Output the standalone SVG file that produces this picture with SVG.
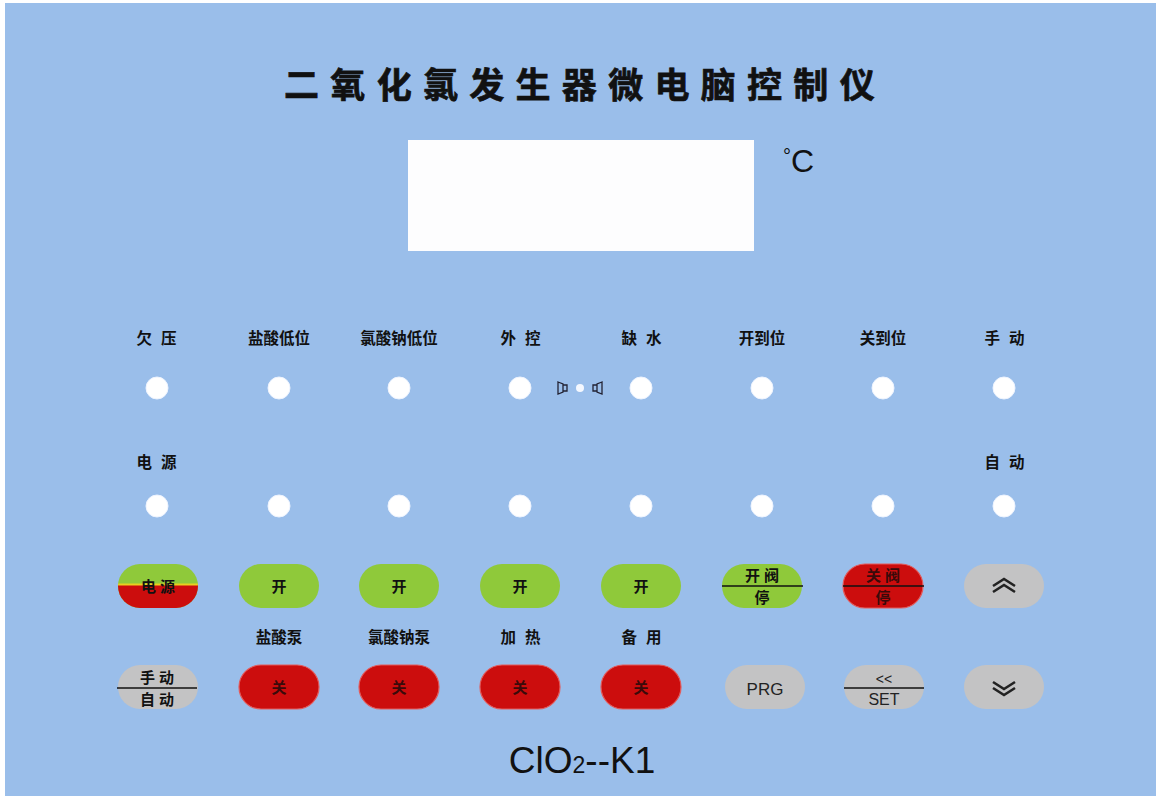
<svg xmlns="http://www.w3.org/2000/svg" width="1156" height="796" viewBox="0 0 1156 796">
<style>
.lbl{font-family:"Noto Sans CJK SC","Liberation Sans",sans-serif;font-weight:bold;font-size:15.5px;fill:#111;text-anchor:middle}
.sp{letter-spacing:9px}
.btxt{font-family:"Noto Sans CJK SC","Liberation Sans",sans-serif;font-weight:bold;font-size:15px;fill:#111;text-anchor:middle}
.rtxt{font-family:"Noto Sans CJK SC","Liberation Sans",sans-serif;font-weight:bold;font-size:15px;fill:#3a0a0a;text-anchor:middle}
.led{fill:#ffffff;stroke:#eef4ff;stroke-width:1}
.green{fill:#8fc93a}
.red{fill:#cc0d0d;stroke:#e35a5a;stroke-width:1.2}
.gray{fill:#c3c3c4}
.div{stroke:#111;stroke-width:1.6}
.chev{fill:none;stroke:#222;stroke-width:2.6;stroke-linejoin:miter}
</style>
<defs>
<clipPath id="pwrclip"><rect x="118" y="564" width="80" height="44" rx="22"/></clipPath>
</defs>
<rect x="0" y="0" width="1156" height="796" fill="#ffffff"/>
<rect x="5" y="3" width="1151" height="793" fill="#9abeea"/>

<g id="title">
<text x="585" y="98" font-family="Noto Sans CJK SC,'Liberation Sans',sans-serif" font-weight="bold" font-size="35" fill="#111" stroke="#111" stroke-width="0.7" text-anchor="middle" letter-spacing="11.3">二氧化氯发生器微电脑控制仪</text>
</g>

<g id="display">
<rect x="408" y="140" width="346" height="111" fill="#fdfdfe"/>
<text x="783" y="163" font-family="'Liberation Sans',sans-serif" font-size="20" fill="#111">°</text>
<text x="791" y="172" font-family="'Liberation Sans',sans-serif" font-size="32" fill="#111">C</text>
</g>

<g id="led-labels">
<text class="lbl sp" x="161" y="344">欠压</text>
<text class="lbl" x="279" y="344">盐酸低位</text>
<text class="lbl" x="399" y="344">氯酸钠低位</text>
<text class="lbl sp" x="525" y="344">外控</text>
<text class="lbl sp" x="646" y="344">缺水</text>
<text class="lbl" x="762" y="344">开到位</text>
<text class="lbl" x="883" y="344">关到位</text>
<text class="lbl sp" x="1009" y="344">手动</text>
<text class="lbl sp" x="161" y="468">电源</text>
<text class="lbl sp" x="1009" y="468">自动</text>
</g>

<g id="leds-row1">
<circle class="led" cx="157" cy="388" r="11"/>
<circle class="led" cx="279" cy="388" r="11"/>
<circle class="led" cx="399" cy="388" r="11"/>
<circle class="led" cx="520" cy="388" r="11"/>
<circle class="led" cx="641" cy="388" r="11"/>
<circle class="led" cx="762" cy="388" r="11"/>
<circle class="led" cx="883" cy="388" r="11"/>
<circle class="led" cx="1004" cy="388" r="11"/>
</g>
<g id="leds-row2">
<circle class="led" cx="157" cy="506" r="11"/>
<circle class="led" cx="279" cy="506" r="11"/>
<circle class="led" cx="399" cy="506" r="11"/>
<circle class="led" cx="520" cy="506" r="11"/>
<circle class="led" cx="641" cy="506" r="11"/>
<circle class="led" cx="762" cy="506" r="11"/>
<circle class="led" cx="883" cy="506" r="11"/>
<circle class="led" cx="1004" cy="506" r="11"/>
</g>

<g id="buzzer">
<path d="M558 382 L563 384 L563 392 L558 394 Z M563 385 L567 385 L567 391 L563 391" fill="none" stroke="#223" stroke-width="1.3"/>
<circle cx="580" cy="388" r="4" fill="#f4f8ff"/>
<path d="M602 382 L597 384 L597 392 L602 394 Z M597 385 L593 385 L593 391 L597 391" fill="none" stroke="#223" stroke-width="1.3"/>
</g>

<g id="btn-power">
<g clip-path="url(#pwrclip)">
<rect x="118" y="564" width="80" height="44" fill="#8fc93a"/>
<rect x="118" y="585" width="80" height="23" fill="#cc0d0d"/>
<rect x="118" y="583.5" width="80" height="2" fill="#e8d020"/>
</g>
<text class="btxt" x="160" y="592" letter-spacing="4">电源</text>
</g>
<g id="btn-on1"><rect class="green" x="239" y="564" width="80" height="44" rx="22"/><text class="btxt" x="279" y="592">开</text></g>
<g id="btn-on2"><rect class="green" x="359" y="564" width="80" height="44" rx="22"/><text class="btxt" x="399" y="592">开</text></g>
<g id="btn-on3"><rect class="green" x="480" y="564" width="80" height="44" rx="22"/><text class="btxt" x="520" y="592">开</text></g>
<g id="btn-on4"><rect class="green" x="601" y="564" width="80" height="44" rx="22"/><text class="btxt" x="641" y="592">开</text></g>
<g id="btn-valve-open">
<rect class="green" x="722" y="564" width="80" height="44" rx="22"/>
<line class="div" x1="722" y1="586" x2="803" y2="586"/>
<text class="btxt" x="764" y="581" font-size="13" letter-spacing="4">开阀</text>
<text class="btxt" x="762" y="603" font-size="13">停</text>
</g>
<g id="btn-valve-close">
<rect class="red" x="843" y="564" width="80" height="44" rx="22"/>
<line class="div" x1="843" y1="586" x2="924" y2="586"/>
<text class="rtxt" x="885" y="581" font-size="13" letter-spacing="4">关阀</text>
<text class="rtxt" x="883" y="603" font-size="13">停</text>
</g>
<g id="btn-up">
<rect class="gray" x="964" y="564" width="80" height="44" rx="22"/>
<path class="chev" d="M993 586 L1004 579 L1015 586 M993 592 L1004 585 L1015 592"/>
</g>

<g id="pump-labels">
<text class="lbl" x="279" y="643">盐酸泵</text>
<text class="lbl" x="399" y="643">氯酸钠泵</text>
<text class="lbl sp" x="525" y="643">加热</text>
<text class="lbl sp" x="646" y="643">备用</text>
</g>

<g id="btn-manual-auto">
<rect class="gray" x="118" y="665" width="80" height="44" rx="22"/>
<line class="div" x1="117" y1="688" x2="197" y2="688"/>
<text class="btxt" x="159" y="683" font-size="13" letter-spacing="4">手动</text>
<text class="btxt" x="159" y="705" font-size="13" letter-spacing="4">自动</text>
</g>
<g id="btn-off1"><rect class="red" x="239" y="665" width="80" height="44" rx="22"/><text class="rtxt" x="279" y="693">关</text></g>
<g id="btn-off2"><rect class="red" x="359" y="665" width="80" height="44" rx="22"/><text class="rtxt" x="399" y="693">关</text></g>
<g id="btn-off3"><rect class="red" x="480" y="665" width="80" height="44" rx="22"/><text class="rtxt" x="520" y="693">关</text></g>
<g id="btn-off4"><rect class="red" x="601" y="665" width="80" height="44" rx="22"/><text class="rtxt" x="641" y="693">关</text></g>
<g id="btn-prg">
<rect class="gray" x="725" y="665" width="80" height="44" rx="22"/>
<text x="765" y="695" font-family="'Liberation Sans',sans-serif" font-size="17" fill="#222" text-anchor="middle">PRG</text>
</g>
<g id="btn-set">
<rect class="gray" x="844" y="665" width="80" height="44" rx="22"/>
<line class="div" x1="844" y1="688" x2="924" y2="688"/>
<text x="884" y="684" font-family="'Liberation Sans',sans-serif" font-size="14" fill="#222" text-anchor="middle">&lt;&lt;</text>
<text x="884" y="705" font-family="'Liberation Sans',sans-serif" font-size="16" fill="#222" text-anchor="middle">SET</text>
</g>
<g id="btn-down">
<rect class="gray" x="964" y="665" width="80" height="44" rx="22"/>
<path class="chev" d="M993 682 L1004 689 L1015 682 M993 688 L1004 695 L1015 688"/>
</g>

<g id="model">
<text x="582" y="773" font-family="'Liberation Sans',sans-serif" font-size="37" fill="#111" text-anchor="middle">ClO<tspan font-size="23">2</tspan>--K1</text>
</g>
<g id="connectors"/>
</svg>
